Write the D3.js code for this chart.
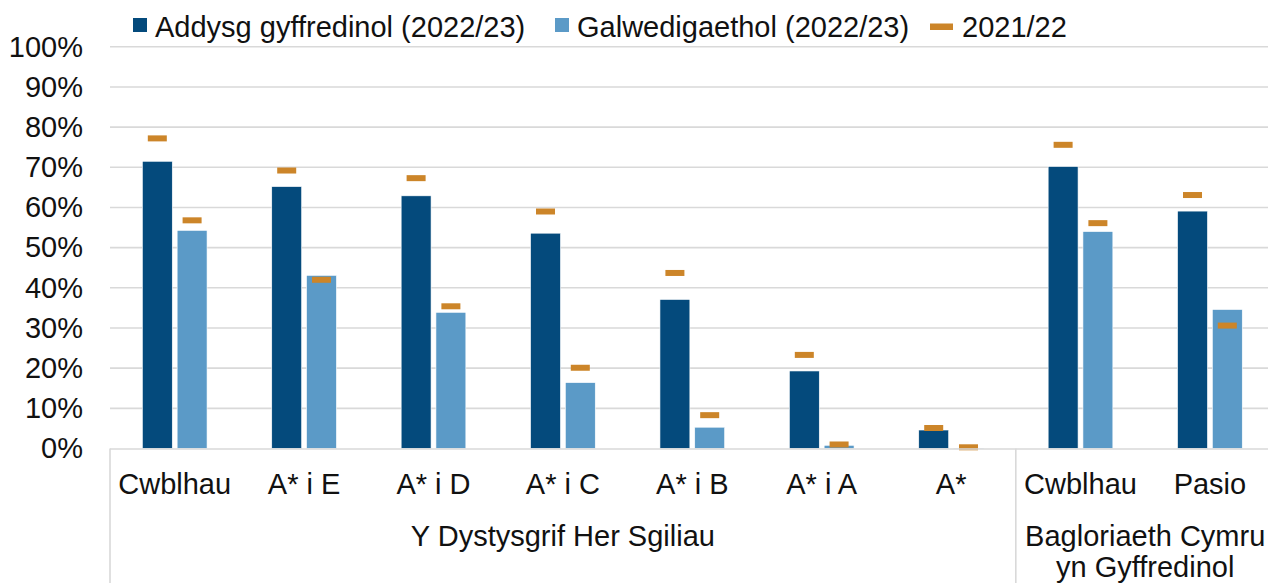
<!DOCTYPE html>
<html>
<head>
<meta charset="utf-8">
<script src="https://cdn.jsdelivr.net/npm/d3@7"></script>
<style>
  html, body { margin: 0; padding: 0; background: #fff; }
  svg { display: block; font-family: "Liberation Sans", Arial, sans-serif; }
</style>
</head>
<body>
<svg id="chart" width="1268" height="583"></svg>
<script>
// ---- Data ----
const categories = ["Cwblhau", "A* i E", "A* i D", "A* i C", "A* i B", "A* i A", "A*", "Cwblhau", "Pasio"];
const groupNames = ["Y Dystysgrif Her Sgiliau", "Bagloriaeth Cymru|yn Gyffredinol"];
const groupSizes = [7, 2];
const seriesNames = ["Addysg gyffredinol (2022/23)", "Galwedigaethol (2022/23)", "2021/22"];
const generalValues = [71.5, 65.2, 62.9, 53.6, 37.1, 19.3, 4.6, 70.2, 59.1];
const vocationalValues = [54.3, 43.1, 33.9, 16.4, 5.3, 0.8, 0.1, 54.0, 34.6];
const generalPrev = [77.2, 69.2, 67.3, 59.0, 43.7, 23.3, 5.1, 75.6, 63.1];
const vocationalPrev = [56.8, 42.0, 35.4, 20.1, 8.3, 1.0, 0.3, 56.1, 30.6];
const yTicks = [0, 10, 20, 30, 40, 50, 60, 70, 80, 90, 100];

// ---- Layout ----
const colors = { general: "#044A7C", vocational: "#5B9AC7", prev: "#CC8529" };
const plotLeft = 110, bandStep = 129.4, plotTop = 46.8, plotBottom = 448.5;
const svg = d3.select("#chart");
const fontSize = 29;

const ids = categories.map((c, i) => i);
const x0 = d3.scaleBand().domain(ids).range([plotLeft, plotLeft + bandStep * categories.length])
  .paddingInner(0.5).paddingOuter(0.25);
const x1 = d3.scaleBand().domain(["general", "vocational"]).range([0, x0.bandwidth()]).paddingInner(0.14);
const y = d3.scaleLinear().domain([0, 100]).range([plotBottom, plotTop]);

// gridlines
const grid = svg.append("g");
grid.selectAll("line").data(yTicks.filter(t => t > 0)).join("line")
  .attr("x1", plotLeft).attr("x2", 1268)
  .attr("y1", d => y(d)).attr("y2", d => y(d))
  .attr("stroke", "#d9d9d9").attr("stroke-width", 1.6);

// y axis labels
const yAxis = d3.axisLeft(y).tickValues(yTicks).tickFormat(d => d + "%").tickSize(0).tickPadding(27);
const yg = svg.append("g").attr("transform", `translate(${plotLeft},0)`).call(yAxis);
yg.select(".domain").remove();
yg.selectAll("text").attr("font-size", fontSize).attr("fill", "#111")
  .attr("font-family", "Liberation Sans, Arial, sans-serif");

// bars
const rows = ids.map(i => ({ i, general: generalValues[i], vocational: vocationalValues[i],
  pg: generalPrev[i], pv: vocationalPrev[i] }));
const gBars = svg.append("g");
["general", "vocational"].forEach(key => {
  gBars.selectAll("rect." + key).data(rows).join("rect").attr("class", key)
    .attr("x", d => x0(d.i) + x1(key))
    .attr("width", x1.bandwidth())
    .attr("y", d => y(d[key]))
    .attr("height", d => y(0) - y(d[key]))
    .attr("fill", colors[key])
    .attr("stroke", "#ffffff").attr("stroke-width", 0.6);
});

// 2021/22 markers
const mW = 19, mH = 6;
[["general", "pg"], ["vocational", "pv"]].forEach(([key, pk]) => {
  gBars.selectAll("rect.m" + key).data(rows).join("rect").attr("class", "m" + key)
    .attr("x", d => x0(d.i) + x1(key) + x1.bandwidth() / 2 - mW / 2)
    .attr("y", d => y(d[pk]) - mH / 2)
    .attr("width", mW).attr("height", mH)
    .attr("fill", colors.prev);
});

// x axis baseline
svg.append("line").attr("x1", plotLeft).attr("x2", 1268).attr("y1", y(0) + 0.5).attr("y2", y(0) + 0.5)
  .attr("stroke", "#d9d9d9").attr("stroke-width", 1.6);

// category labels
const xAxis = d3.axisBottom(x0).tickFormat(i => categories[i]).tickSize(0).tickPadding(0);
const xg = svg.append("g").attr("transform", `translate(0,${y(0)})`).call(xAxis);
xg.select(".domain").remove();
xg.selectAll("text").attr("font-size", fontSize).attr("fill", "#111")
  .attr("font-family", "Liberation Sans, Arial, sans-serif")
  .attr("dy", null).attr("y", 45);

// group separators + labels
let start = 0;
const sepXs = [];
groupSizes.forEach((n, gi) => {
  const xa = plotLeft + bandStep * start;
  const xb = plotLeft + bandStep * (start + n);
  sepXs.push(xa);
  const cx = (xa + xb) / 2;
  const lines = groupNames[gi].split("|");
  const t = svg.append("text").attr("text-anchor", "middle").attr("font-size", fontSize).attr("fill", "#111");
  lines.forEach((ln, li) => {
    t.append("tspan").attr("x", cx).attr("y", 546 + li * 31).text(ln);
  });
  start += n;
});
svg.selectAll("line.sep").data(sepXs).join("line").attr("class", "sep")
  .attr("x1", d => d).attr("x2", d => d).attr("y1", y(0)).attr("y2", 583)
  .attr("stroke", "#d9d9d9").attr("stroke-width", 1.6);

// legend
const legend = svg.append("g");
const legendItems = [
  { name: seriesNames[0], color: colors.general, type: "sq", x: 133 },
  { name: seriesNames[1], color: colors.vocational, type: "sq", x: 555 },
  { name: seriesNames[2], color: colors.prev, type: "dash", x: 930 }
];
legendItems.forEach(it => {
  if (it.type === "sq") {
    legend.append("rect").attr("x", it.x).attr("y", 18).attr("width", 14).attr("height", 14).attr("fill", it.color);
    legend.append("text").attr("x", it.x + 22).attr("y", 36.5).attr("font-size", fontSize).attr("fill", "#111").text(it.name);
  } else {
    legend.append("rect").attr("x", it.x).attr("y", 23.5).attr("width", 23).attr("height", 6.5).attr("fill", it.color);
    legend.append("text").attr("x", it.x + 32).attr("y", 36.5).attr("font-size", fontSize).attr("fill", "#111").text(it.name);
  }
});
</script>
</body>
</html>
